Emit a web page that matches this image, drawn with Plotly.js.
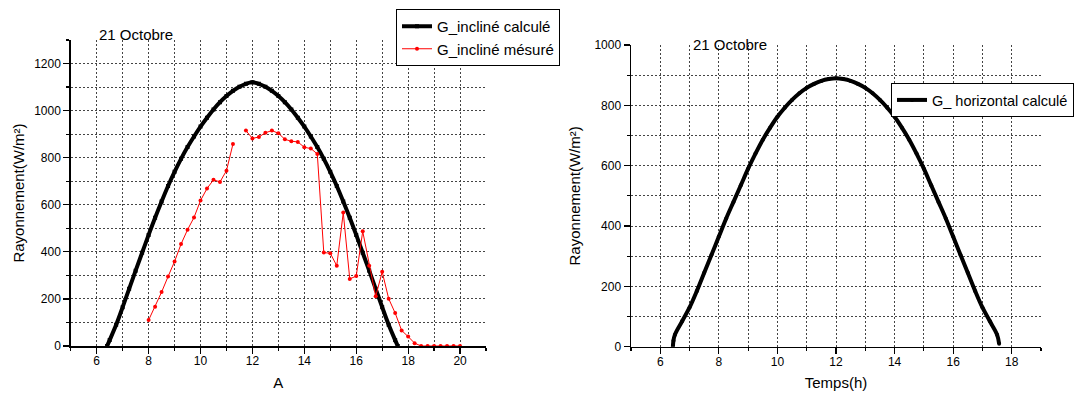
<!DOCTYPE html>
<html>
<head>
<meta charset="utf-8">
<script src="https://cdn.plot.ly/plotly-3.0.1.min.js"></script>
<style>html,body{margin:0;padding:0;background:#fff;}#chart{width:1075px;height:396px;}</style>
</head>
<body>
<div id="chart"></div>
<script>
// ---- Data ----
// Left chart: G_incliné calculé (time in h, W/m²)
const inclCalcTime = [6.4,6.5,6.75,7,7.25,7.5,7.75,8,8.25,8.5,8.75,9,9.25,9.5,9.75,10,10.25,10.5,10.75,11,11.25,11.5,11.75,12,
  12.25,12.5,12.75,13,13.25,13.5,13.75,14,14.25,14.5,14.75,15,15.25,15.5,15.75,16,16.25,16.5,16.75,17,17.25,17.5,17.6];
const inclCalcValue = [0,25,90,165,243,320,396,472,545,614,680,740,795,845,890,932,970,1005,1036,1062,1084,1101,1114,1120,
  1114,1101,1084,1062,1036,1005,970,932,890,845,795,740,680,614,545,472,396,320,243,165,90,25,0];

// Left chart: G_incliné mésuré (15-min measurements, gap at 11.5 h)
const inclMesTime = [8,8.25,8.5,8.75,9,9.25,9.5,9.75,10,10.25,10.5,10.75,11,11.25,11.5,11.75,12,12.25,12.5,12.75,13,13.25,13.5,13.75,
  14,14.25,14.5,14.75,15,15.25,15.5,15.75,16,16.25,16.5,16.75,17,17.25,17.5,17.75,18,18.25,18.5,18.75,19,19.25,19.5,19.75,20];
const inclMesValue = [110,167,229,295,359,433,494,546,618,669,706,697,745,858,null,915,882,888,906,915,904,878,870,867,
  844,839,816,397,394,341,567,285,297,487,341,211,315,201,140,66,40,12,0,0,0,0,0,0,0];

// Right chart: G_ horizontal calculé
const horizTime = [6.43,6.45,6.5,6.75,7,7.25,7.5,7.75,8,8.25,8.5,8.75,9,9.25,9.5,9.75,10,10.25,10.5,10.75,11,11.25,11.5,11.75,12,
  12.25,12.5,12.75,13,13.25,13.5,13.75,14,14.25,14.5,14.75,15,15.25,15.5,15.75,16,16.25,16.5,16.75,17,17.25,17.5,17.57];
const horizValue = [0,20,40,85,130,185,245,305,365,425,480,535,590,640,686,726,762,792,818,840,858,871,881,887,890,
  887,881,871,858,840,818,792,762,726,686,640,590,535,480,425,365,305,245,185,130,85,40,10];

// Labels
const leftXTitle = 'A';
const rightXTitle = 'Temps(h)';
const yTitle = 'Rayonnement(W/m²)';
const dateLabel = '21 Octobre';
const nameInclCalc = 'G_incliné calculé';
const nameInclMes = 'G_incliné mésuré';
const nameHoriz = 'G_ horizontal calculé';

// ---- Figure ----
const FONT = 'Liberation Sans, Arial, sans-serif';
const GRID = '#444';

const traces = [
  {x: inclCalcTime, y: inclCalcValue, name: nameInclCalc, type: 'scatter', mode: 'lines+markers',
   line: {color: '#000', width: 4, shape: 'spline', smoothing: 1},
   marker: {color: '#000', size: 4, symbol: 'square'},
   xaxis: 'x', yaxis: 'y', legend: 'legend'},
  {x: inclMesTime, y: inclMesValue, name: nameInclMes, type: 'scatter', mode: 'lines+markers',
   line: {color: '#ff0000', width: 1}, marker: {color: '#ff0000', size: 4, symbol: 'circle'},
   connectgaps: false, xaxis: 'x', yaxis: 'y', legend: 'legend'},
  {x: horizTime, y: horizValue, name: nameHoriz, type: 'scatter', mode: 'lines+markers',
   line: {color: '#000', width: 4, shape: 'spline', smoothing: 1},
   marker: {color: '#000', size: 4, symbol: 'circle'},
   xaxis: 'x2', yaxis: 'y2', legend: 'legend2'}
];

function xAxis(domain, range, anchor, title) {
  return {
    domain: domain, range: range, anchor: anchor,
    tick0: 0, dtick: 2, ticks: 'outside', ticklen: 6, tickwidth: 1.2, tickcolor: '#000',
    ticklabelstandoff: -3,
    showline: true, linecolor: '#000', linewidth: 1.5, zeroline: false,
    showgrid: true, gridcolor: GRID, gridwidth: 1, griddash: '2px,2px',
    minor: {dtick: 1, ticks: 'outside', ticklen: 3, tickcolor: '#000', showgrid: true,
            gridcolor: GRID, gridwidth: 1, griddash: '2px,2px'},
    tickfont: {family: FONT, size: 12, color: '#000'},
    title: {text: title, font: {family: FONT, size: 15, color: '#000'}, standoff: 10},
    automargin: false, fixedrange: true
  };
}
function yAxis(domain, range, dtick, anchor, standoff) {
  return {
    domain: domain, range: range, anchor: anchor,
    tick0: 0, dtick: dtick, ticks: 'outside', ticklen: 6, tickwidth: 1.2, tickcolor: '#000',
    showline: true, linecolor: '#000', linewidth: 1.5, zeroline: false,
    showgrid: true, gridcolor: GRID, gridwidth: 1, griddash: '2px,2px',
    minor: {dtick: dtick / 2, ticks: 'outside', ticklen: 3, tickcolor: '#000', showgrid: true,
            gridcolor: GRID, gridwidth: 1, griddash: '2px,2px'},
    tickfont: {family: FONT, size: 12, color: '#000'},
    title: {text: yTitle, font: {family: FONT, size: 15, color: '#000'}, standoff: standoff},
    automargin: false, fixedrange: true
  };
}

const W = 1075, H = 396;
const layout = {
  width: W, height: H, autosize: false,
  margin: {l: 0, r: 0, t: 0, b: 0},
  paper_bgcolor: '#fff', plot_bgcolor: '#fff',
  font: {family: FONT, color: '#000'},
  xaxis: xAxis([70.75 / W, 486 / W], [5, 21], 'y', leftXTitle),
  yaxis: yAxis([(H - 346) / H, (H - 40) / H], [0, 1300], 200, 'x', 6),
  xaxis2: xAxis([631 / W, 1041 / W], [5, 19], 'y2', rightXTitle),
  yaxis2: yAxis([(H - 346.7) / H, (H - 45) / H], [0, 1000], 200, 'x2', 10),
  legend: {x: 396 / W, y: 1 - 9 / H, xanchor: 'left', yanchor: 'top',
           bgcolor: '#fff', bordercolor: '#000', borderwidth: 1,
           font: {family: FONT, size: 15, color: '#000'}, tracegroupgap: 0, itemwidth: 30},
  legend2: {x: 891 / W, y: 1 - 83 / H, xanchor: 'left', yanchor: 'top',
           bgcolor: '#fff', bordercolor: '#000', borderwidth: 1,
           font: {family: FONT, size: 14.5, color: '#000'}, itemwidth: 30},
  showlegend: true,
  annotations: [
    {text: dateLabel, xref: 'paper', yref: 'paper', x: 136 / W, y: 1 - 35 / H,
     xanchor: 'center', yanchor: 'middle', showarrow: false, font: {family: FONT, size: 15, color: '#000'}},
    {text: dateLabel, xref: 'paper', yref: 'paper', x: 730 / W, y: 1 - 44 / H,
     xanchor: 'center', yanchor: 'middle', showarrow: false, font: {family: FONT, size: 15, color: '#000'}}
  ]
};

Plotly.newPlot('chart', traces, layout, {displayModeBar: false, staticPlot: true});
</script>
</body>
</html>
